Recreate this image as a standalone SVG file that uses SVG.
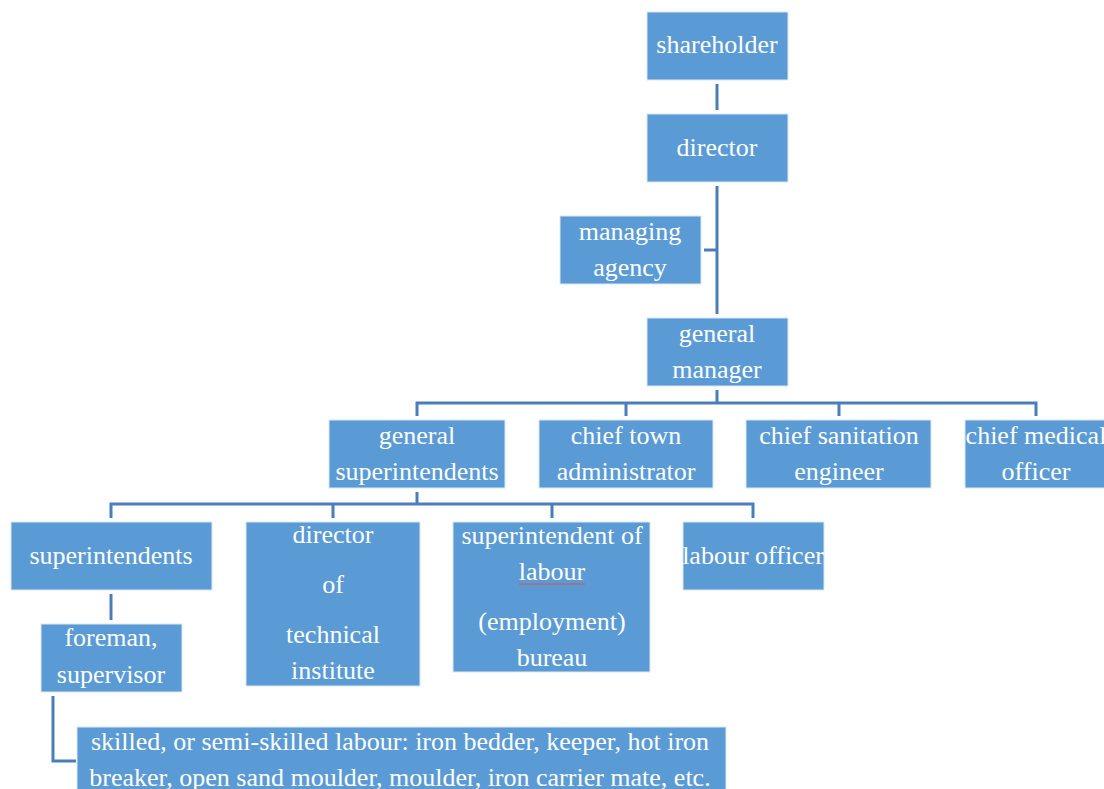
<svg xmlns="http://www.w3.org/2000/svg" width="1104" height="789" viewBox="0 0 1104 789">
<style>
.box{fill:#5B9BD5;stroke:#DCE8F5;stroke-width:1}
.t{font-family:"Liberation Serif","DejaVu Serif",serif;font-size:26px;fill:#FFFFFF;text-anchor:middle}
.c{fill:none;stroke:#4A7EBB;stroke-width:3}
</style>
<rect width="1104" height="789" fill="#FFFFFF"/>
<g id="connectors">
<path class="c" d="M717 84V110"/>
<path class="c" d="M717 186V314"/>
<path class="c" d="M704 250H717"/>
<path class="c" d="M717 390V403M417 416V403H1036V416M626 403V416M839 403V416"/>
<path class="c" d="M417 492V504M111 518V504H753V518M333 504V518M552 504V518"/>
<path class="c" d="M111 594V620"/>
<path class="c" d="M53 696V761H76"/>
</g>
<g id="shareholder"><rect class="box" x="647" y="12" width="141" height="68"/><text class="t" x="717" y="53">shareholder</text></g>
<g id="director"><rect class="box" x="647" y="114" width="141" height="68"/><text class="t" x="717" y="156">director</text></g>
<g id="managing-agency"><rect class="box" x="560" y="216" width="141" height="68"/><text class="t" x="630" y="240">managing</text><text class="t" x="630" y="276">agency</text></g>
<g id="general-manager"><rect class="box" x="647" y="318" width="141" height="68"/><text class="t" x="717" y="342">general</text><text class="t" x="717" y="378">manager</text></g>
<g id="general-superintendents"><rect class="box" x="329" y="420" width="176" height="68"/><text class="t" x="417" y="444">general</text><text class="t" x="417" y="480">superintendents</text></g>
<g id="chief-town-administrator"><rect class="box" x="539" y="420" width="174" height="68"/><text class="t" x="626" y="444">chief town</text><text class="t" x="626" y="480">administrator</text></g>
<g id="chief-sanitation-engineer"><rect class="box" x="746" y="420" width="185" height="68"/><text class="t" x="839" y="444">chief sanitation</text><text class="t" x="839" y="480">engineer</text></g>
<g id="chief-medical-officer"><rect class="box" x="965" y="420" width="145" height="68"/><text class="t" x="1036" y="444">chief medical</text><text class="t" x="1036" y="480">officer</text></g>
<g id="superintendents"><rect class="box" x="11" y="522" width="201" height="68"/><text class="t" x="111" y="564">superintendents</text></g>
<g id="director-technical-institute"><rect class="box" x="246" y="522" width="174" height="164"/><text class="t" x="333" y="543">director</text><text class="t" x="333" y="593">of</text><text class="t" x="333" y="643">technical</text><text class="t" x="333" y="679">institute</text></g>
<g id="superintendent-labour-bureau"><rect class="box" x="453" y="522" width="197" height="150"/><text class="t" x="552" y="544">superintendent of</text><text class="t" x="552" y="580">labour</text><path d="M519 584H585" stroke="#D9534F" stroke-width="1" fill="none"/><text class="t" x="552" y="630">(employment)</text><text class="t" x="552" y="666">bureau</text></g>
<g id="labour-officer"><rect class="box" x="683" y="522" width="141" height="68"/><text class="t" x="753" y="564">labour officer</text></g>
<g id="foreman-supervisor"><rect class="box" x="41" y="624" width="141" height="68"/><text class="t" x="111" y="646">foreman,</text><text class="t" x="111" y="683">supervisor</text></g>
<g id="skilled-labour"><rect class="box" x="77" y="727" width="649" height="70"/><text class="t" x="400" y="750">skilled, or semi-skilled labour: iron bedder, keeper, hot iron</text><text class="t" x="400" y="786">breaker, open sand moulder, moulder, iron carrier mate, etc.</text></g>
</svg>
